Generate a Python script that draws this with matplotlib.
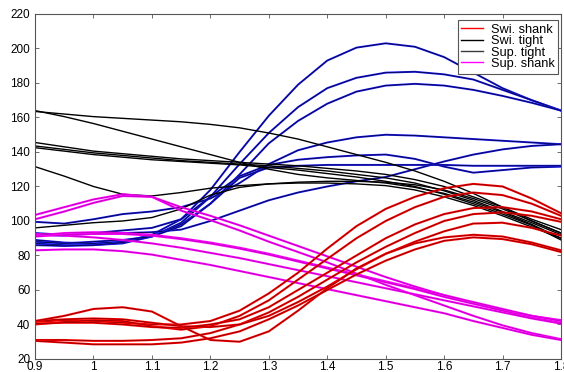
import matplotlib.pyplot as plt
from matplotlib.lines import Line2D
from matplotlib.ticker import FormatStrFormatter

plt.rcParams['font.family'] = ['Liberation Sans', 'DejaVu Sans']

# sample positions shared by every curve
x = [0.9, 0.95, 1.0, 1.05, 1.1, 1.15, 1.2, 1.25, 1.3, 1.35,
     1.4, 1.45, 1.5, 1.55, 1.6, 1.65, 1.7, 1.75, 1.8]

# Swi. shank (red)
swi_shank = [
    [41.5, 42.5, 42, 41, 40, 40, 42, 48, 58, 70, 84, 97, 107, 114, 119, 121.5, 120, 113, 104.5],
    [40, 41.5, 42.5, 42, 39, 37, 39, 45, 54, 66, 78, 90, 100, 108, 114, 116.5, 115, 110, 103],
    [40.5, 41, 41, 40, 38.5, 38, 40, 43, 50, 60, 70, 80, 90, 98, 104, 107.5, 108, 105.5, 101],
    [31, 31, 30.5, 30.5, 31, 32, 35, 40, 47, 56, 66, 76, 85, 93, 100, 104, 105, 103, 99.5],
    [42, 43, 43.5, 43, 41, 39, 38.5, 40, 45, 53, 62, 72, 81, 88, 94, 98.5, 99, 96, 91.5],
    [42, 45, 49, 50, 47.5, 39, 31, 30, 36, 48, 61, 72.5, 81, 87, 90.5, 92, 91, 87.5, 83],
    [30.5, 29.5, 28.5, 28.5, 28.5, 29.5, 32, 36, 43, 51, 60, 69, 77, 83.5, 88.5, 90.5, 89.5, 86.5, 82],
]

# Swi. tight (black)
swi_tight = [
    [163.5, 162, 160.5, 159.5, 158.5, 157.5, 156, 154, 151, 147.5, 143, 138.5, 134, 129, 123, 116, 108, 100, 93],
    [164, 160.5, 156.5, 152, 147.5, 143, 138.5, 134, 130, 127, 125, 123.5, 122, 119.5, 116, 111, 105, 98, 90],
    [145.5, 143, 140.5, 139, 137.5, 136, 135, 134, 133, 132, 130.5, 129, 127, 124, 120, 114, 108, 101, 95],
    [143.5, 141.5, 139.5, 138, 136.5, 135, 134, 133, 132, 130.5, 129, 127, 125, 122, 117.5, 112, 105.5, 99, 92],
    [142.5, 140.5, 138.5, 137, 135.5, 134.5, 133.5, 132.5, 131, 129.5, 127.5, 125.5, 123, 120, 115.5, 110, 104, 97.5, 89],
    [131.5, 126, 120, 115.5, 114.5, 116.5, 119, 120.5, 121.5, 122, 122, 121.5, 120.5, 118, 114, 109, 103, 96.5, 90],
    [96, 97.5, 99, 100, 102, 107, 115, 119.5, 121.5, 122.5, 123, 123, 122.5, 121, 118, 113, 107, 100, 93],
]

# Sup. tight (blue)
sup_tight = [
    [89, 87.5, 87, 88, 92, 101, 118, 140, 161, 179, 193, 200.5, 203, 201, 195, 186, 177, 170, 164],
    [87, 86, 86, 87, 91, 99, 114, 133, 151, 166, 177, 183, 186, 186.5, 185, 182, 176, 170, 164],
    [86, 85.5, 86, 87.5, 91, 98, 110, 127, 145, 158, 168, 175, 178.5, 179.5, 178.5, 176, 172.5, 168.5, 164],
    [99.5, 98.5, 101, 104, 105.5, 108, 113, 122, 133, 141, 145.5, 148.5, 150, 149.5, 148.5, 147.5, 146.5, 145.5, 144.5],
    [92, 91.5, 93, 94.5, 96, 101, 114, 126, 132.5, 135.5, 137, 138, 138.5, 136, 131.5, 128, 129.5, 131, 131.5],
    [93, 92, 92.5, 93, 93.5, 95, 100, 106, 112, 116.5, 120, 123, 125.5, 130, 134.5, 138.5, 141.5, 143.5, 144.5],
    [88, 87, 88, 89, 91, 97, 110, 125, 131, 132, 132.5, 132.5, 132.5, 132.5, 132.5, 132, 132, 132, 132],
]

# Sup. shank (magenta)
sup_shank = [
    [103.5, 108, 112.5, 115.5, 114, 106, 100.5, 94.5, 88, 82, 76, 69.5, 63, 57, 51, 45, 39.5, 35, 31.5],
    [101, 105.5, 110.5, 114.5, 114, 108, 103, 97.5, 91.5, 85.5, 79.5, 73.5, 67.5, 62, 57, 52.5, 48.5, 45, 42.5],
    [91.5, 93, 93.5, 93, 92, 90, 87.5, 84.5, 81, 77, 73, 69, 65, 61, 57, 53, 49, 45, 42],
    [91, 92, 92.5, 92.5, 91.5, 89.5, 87, 84, 80.5, 76.5, 72.5, 68.5, 64.5, 60.5, 56, 52, 48, 44, 41],
    [92.5, 91.5, 90.5, 89, 87, 84.5, 81.5, 78.5, 75, 71.5, 68, 64.5, 61, 57.5, 54, 50.5, 47, 43.5, 40.5],
    [83, 83.5, 83.5, 82.5, 80.5, 77.5, 74.5, 71, 67.5, 64, 60.5, 57, 53.5, 50, 46.5, 42, 38, 34, 31],
]

legend_labels = ['Swi. shank', 'Swi. tight', 'Sup. tight', 'Sup. shank']

fig = plt.figure(figsize=(5.64, 3.72), dpi=100)
ax = fig.add_axes([0.0621, 0.035, 0.9326, 0.9274])

for y in sup_tight:
    ax.plot(x, y, color='#1a1aff', lw=1.4)
    ax.plot(x, y, color='black', lw=0.6, alpha=0.75)
for y in swi_tight:
    ax.plot(x, y, color='black', lw=1.0)
for y in sup_shank:
    ax.plot(x, y, color='#ff00ff', lw=1.5)
    ax.plot(x, y, color='#400040', lw=0.3, alpha=0.6)
for y in swi_shank:
    ax.plot(x, y, color='red', lw=1.5)
    ax.plot(x, y, color='black', lw=0.35, alpha=0.7)

ax.set_xlim(0.9, 1.8)
ax.set_ylim(20, 220)
ax.set_xticks(x[::2])
ax.set_yticks(range(20, 221, 20))
ax.xaxis.set_major_formatter(FormatStrFormatter('%g'))
ax.tick_params(direction='in', top=True, right=True, length=3,
               labelsize=8.5, width=0.6, color='#555555')
ax.tick_params(axis='x', pad=1.2)
for s in ax.spines.values():
    s.set_linewidth(0.8)
    s.set_color('#555555')

handles = [Line2D([], [], color='red', lw=1.0),
           Line2D([], [], color='black', lw=1.0),
           Line2D([], [], color='#3a3a3a', lw=1.0),
           Line2D([], [], color='#ff00ff', lw=1.0)]
leg = ax.legend(handles, legend_labels, loc='upper right', fontsize=9.2,
                bbox_to_anchor=(1.0, 0.99), borderaxespad=0.2,
                fancybox=False, framealpha=1, edgecolor='#555555',
                labelspacing=-0.05, handlelength=1.7, handletextpad=0.6,
                borderpad=0.3)
leg.get_frame().set_linewidth(0.8)

fig.savefig('out.png', dpi=100)
